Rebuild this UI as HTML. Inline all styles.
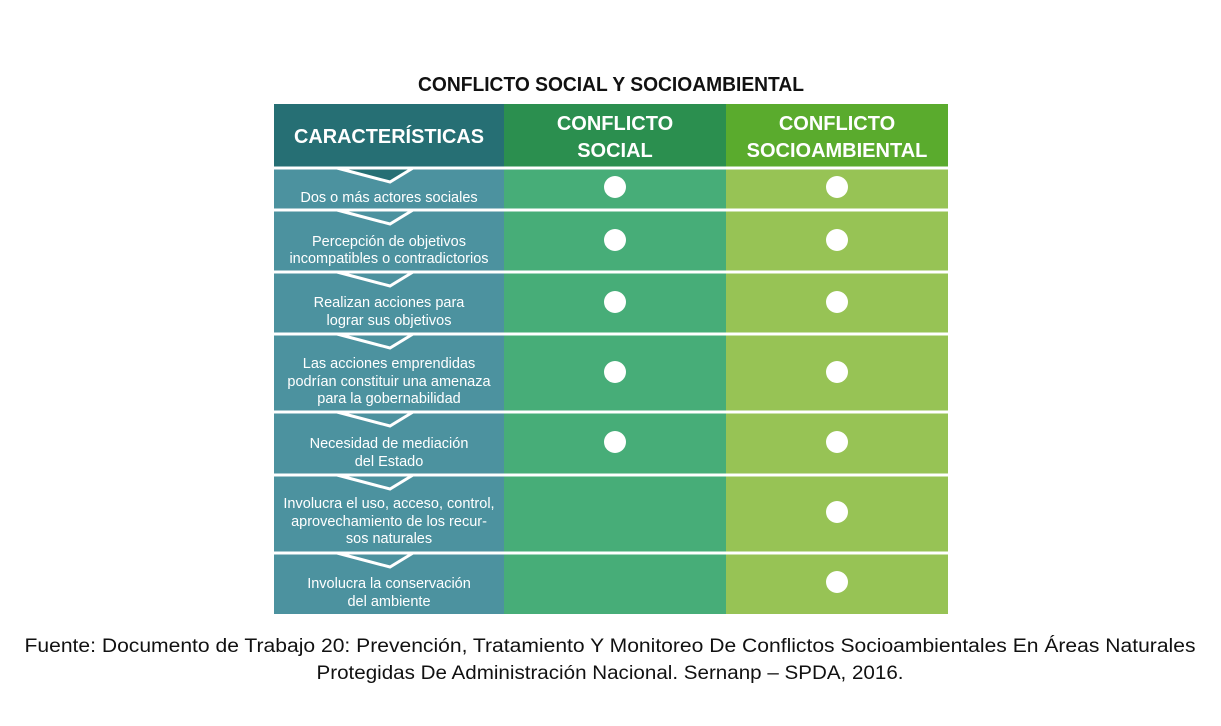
<!DOCTYPE html>
<html><head><meta charset="utf-8"><style>
body{margin:0;background:#fff;width:1221px;height:721px;overflow:hidden}
</style></head><body>
<svg width="1221" height="721" xmlns="http://www.w3.org/2000/svg" font-family="Liberation Sans, sans-serif">
<text x="611" y="91" text-anchor="middle" font-size="20" font-weight="bold" fill="#111" textLength="386" lengthAdjust="spacingAndGlyphs">CONFLICTO SOCIAL Y SOCIOAMBIENTAL</text>
<rect x="274" y="104" width="230" height="64" fill="#266f74"/>
<rect x="504" y="104" width="222" height="64" fill="#2b8f4f"/>
<rect x="726" y="104" width="222" height="64" fill="#5aab2d"/>
<rect x="274" y="168" width="230" height="446" fill="#4c929f"/>
<rect x="504" y="168" width="222" height="446" fill="#47ad78"/>
<rect x="726" y="168" width="222" height="446" fill="#97c355"/>
<polygon points="337,168 390,182 413,168" fill="#266f74"/>
<g stroke="#fff" stroke-width="3" fill="none">
<line x1="274" y1="168" x2="948" y2="168"/><polyline points="337,168 390,182 413,168"/>
<line x1="274" y1="210" x2="948" y2="210"/><polyline points="337,210 390,224 413,210"/>
<line x1="274" y1="272" x2="948" y2="272"/><polyline points="337,272 390,286 413,272"/>
<line x1="274" y1="334" x2="948" y2="334"/><polyline points="337,334 390,348 413,334"/>
<line x1="274" y1="412" x2="948" y2="412"/><polyline points="337,412 390,426 413,412"/>
<line x1="274" y1="475" x2="948" y2="475"/><polyline points="337,475 390,489 413,475"/>
<line x1="274" y1="553" x2="948" y2="553"/><polyline points="337,553 390,567 413,553"/>
</g>
<g fill="#fff" font-weight="bold" text-anchor="middle" font-size="20">
<text x="389" y="143" textLength="190" lengthAdjust="spacingAndGlyphs">CARACTERÍSTICAS</text>
<text x="615" y="130">CONFLICTO</text><text x="615" y="157">SOCIAL</text>
<text x="837" y="130">CONFLICTO</text><text x="837" y="157">SOCIOAMBIENTAL</text>
</g>
<g fill="#fff" text-anchor="middle" font-size="14.5">
<text x="389" y="202">Dos o más actores sociales</text>
<text x="389" y="246">Percepción de objetivos</text><text x="389" y="263">incompatibles o contradictorios</text>
<text x="389" y="307">Realizan acciones para</text><text x="389" y="325">lograr sus objetivos</text>
<text x="389" y="368">Las acciones emprendidas</text><text x="389" y="386">podrían constituir una amenaza</text><text x="389" y="403">para la gobernabilidad</text>
<text x="389" y="448">Necesidad de mediación</text><text x="389" y="466">del Estado</text>
<text x="389" y="508">Involucra el uso, acceso, control,</text><text x="389" y="526">aprovechamiento de los recur-</text><text x="389" y="543">sos naturales</text>
<text x="389" y="588">Involucra la conservación</text><text x="389" y="606">del ambiente</text>
</g>
<g fill="#fff">
<circle cx="615" cy="187" r="11"/><circle cx="837" cy="187" r="11"/>
<circle cx="615" cy="240" r="11"/><circle cx="837" cy="240" r="11"/>
<circle cx="615" cy="302" r="11"/><circle cx="837" cy="302" r="11"/>
<circle cx="615" cy="372" r="11"/><circle cx="837" cy="372" r="11"/>
<circle cx="615" cy="442" r="11"/><circle cx="837" cy="442" r="11"/>
<circle cx="837" cy="512" r="11"/>
<circle cx="837" cy="582" r="11"/>
</g>
<g fill="#111" text-anchor="middle" font-size="19">
<text x="610" y="652" textLength="1171" lengthAdjust="spacingAndGlyphs">Fuente: Documento de Trabajo 20: Prevención, Tratamiento Y Monitoreo De Conflictos Socioambientales En Áreas Naturales</text>
<text x="610" y="679" textLength="587" lengthAdjust="spacingAndGlyphs">Protegidas De Administración Nacional. Sernanp – SPDA, 2016.</text>
</g>
</svg>
</body></html>
